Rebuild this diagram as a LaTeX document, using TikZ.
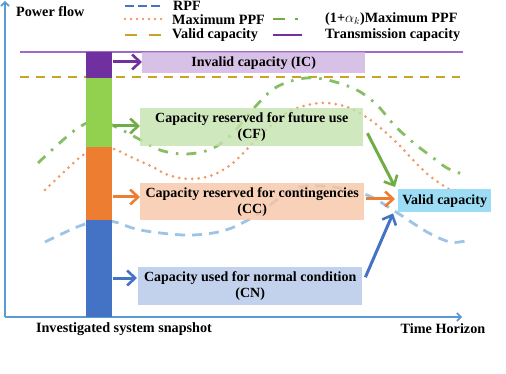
\documentclass[tikz,border=0pt]{standalone}
\usepackage{fontspec}
\setmainfont{Liberation Serif}
\usetikzlibrary{arrows.meta,calc}
\definecolor{axisblue}{HTML}{5B9BD5}
\definecolor{barP}{HTML}{7030A0}
\definecolor{barG}{HTML}{92D050}
\definecolor{barO}{HTML}{ED7D31}
\definecolor{barB}{HTML}{4472C4}
\definecolor{arrG}{HTML}{70AD47}
\definecolor{boxP}{HTML}{CDB2E0}
\definecolor{boxG}{HTML}{C3E2AC}
\definecolor{boxO}{HTML}{F8C6A6}
\definecolor{boxB}{HTML}{B4C7E7}
\definecolor{boxV}{HTML}{9DDCF5}
\definecolor{curB}{HTML}{9DC3E6}
\definecolor{curO}{HTML}{F29A66}
\definecolor{curG}{HTML}{86BF62}
\definecolor{gold}{HTML}{C9A227}
\definecolor{lineP}{HTML}{9E6BC8}
\tikzset{
  capbox/.style={rectangle, inner sep=1pt, align=center, fill opacity=0.8, text opacity=1, anchor=north west, font=\bfseries\fontsize{14}{16}\selectfont},
  flowarrow/.style={line width=3pt, -{Straight Barb[length=8pt,width=15pt,line width=2.6pt]}},
  axisline/.style={axisblue, line width=1.6pt, -{Straight Barb[length=4pt,width=8pt]}},
  lbl/.style={anchor=west, inner sep=0pt},
}
\begin{document}
\begin{tikzpicture}[x=1pt,y=-1pt, font=\bfseries\fontsize{14.2}{16}\selectfont]
\useasboundingbox (0,0) rectangle (506,374);
% axes
\coordinate (origin) at (5,317);
\coordinate (ytip) at (5,1);
\coordinate (xtip) at (462,317);
\draw[axisline] (origin) -- (ytip);
\draw[axisline] (origin) -- (xtip);
\node[lbl] (pf) at (16,12) {Power flow};
\node[inner sep=0pt] (snap) at (124,329) {Investigated system snapshot};
\node[inner sep=0pt] (th) at (443,329) {Time Horizon};
% legend
\coordinate (l1a) at (125,6); \coordinate (l1b) at (162,6);
\coordinate (l2a) at (125,19); \coordinate (l2b) at (162,19);
\coordinate (l3a) at (125,35); \coordinate (l3b) at (162,35);
\coordinate (l4a) at (273,19); \coordinate (l4b) at (305,19);
\coordinate (l5a) at (273,35); \coordinate (l5b) at (302,35);
\draw[barB, line width=2.8pt, dash pattern=on 9pt off 4pt] (l1a) -- (l1b);
\draw[curO, line width=2.8pt, line cap=round, dash pattern=on 0pt off 6pt] (l2a) -- (l2b);
\draw[gold, line width=2.8pt, dash pattern=on 12pt off 12pt] (l3a) -- (l3b);
\draw[arrG, line width=2.8pt, dash pattern=on 12pt off 10pt on 3pt off 10pt] (l4a) -- (l4b);
\draw[barP, line width=2.8pt] (l5a) -- (l5b);
\node[lbl] (t1) at (173,6) {RPF};
\node[lbl] (t2) at (172,19.5) {Maximum PPF};
\node[lbl] (t3) at (172,35) {Valid capacity};
\node[lbl] (t4) at (325,19) {(1+$\alpha_k$)Maximum PPF};
\node[lbl] (t5) at (325,35) {Transmission capacity};
% horizontal limits
\coordinate (tcA) at (20,52); \coordinate (tcB) at (463,52);
\coordinate (vcA) at (20,77); \coordinate (vcB) at (460,77);
\draw[lineP, line width=1.6pt] (tcA) -- (tcB);
\draw[gold, line width=2pt, dash pattern=on 9pt off 7pt] (vcA) -- (vcB);
% curves
\draw[curG, line width=2.8pt, dash pattern=on 10pt off 8pt on 2.5pt off 8pt]
  plot[smooth, tension=0.55] coordinates {(38,163) (75,130) (98,120) (118,128) (137,138) (160,150) (182,154) (202,152) (217,146) (234,132) (255,107) (272,90) (288,82) (306,78) (323,79) (345,85) (362,93) (378,106) (395,126) (415,144) (432,157) (447,168) (462,174)};
\draw[curO, line width=3pt, line cap=round, dash pattern=on 0pt off 6.5pt]
  plot[smooth, tension=0.55] coordinates {(45,190) (65,171) (83,155) (100,148) (114,149) (133,158) (153,167) (168,175) (190,179) (213,175) (233,163) (248,148) (266,130) (290,111) (320,103) (347,107) (372,121) (397,143) (414,161) (431,177) (452,191)};
\draw[curB, line width=2.8pt, dash pattern=on 10pt off 7pt]
  plot[smooth, tension=0.55] coordinates {(45,242) (77,227) (98,221) (115,222) (140,230) (183,235) (213,233) (234,227) (260,213) (278,199) (300,187) (333,187) (367,195) (393,210) (427,232) (450,242) (465,241)};
% boxes
\node[capbox, fill=boxP, minimum width=223pt, minimum height=21pt] (ic) at (142,52) {Invalid capacity (IC)};
\node[capbox, fill=boxG, minimum width=223pt, minimum height=38pt] (cf) at (140,108) {Capacity reserved for future use\\(CF)};
\node[capbox, fill=boxO, minimum width=224pt, minimum height=37pt] (cc) at (140,183) {Capacity reserved for contingencies\\(CC)};
\node[capbox, fill=boxB, minimum width=224pt, minimum height=38pt] (cn) at (138,267) {Capacity used for normal condition\\(CN)};
\node[capbox, fill=boxV, fill opacity=1, minimum width=93pt, minimum height=23pt] (vc) at (398,189) {Valid capacity};
% bar
\path[fill=barP] (86,52) rectangle (112,78);
\path[fill=barG] (86,78) rectangle (112,147);
\path[fill=barO] (86,147) rectangle (112,220);
\path[fill=barB] (86,220) rectangle (112,317);
\coordinate (bar) at (113,0);
% arrows from bar
\draw[flowarrow, barP] (bar |- 0,62) -- (ic.west |- 0,62);
\draw[flowarrow, arrG] (bar |- 0,126) -- (cf.west |- 0,126);
\draw[flowarrow, barO] (bar |- 0,197) -- (cc.west |- 0,197);
\draw[flowarrow, barB] (bar |- 0,278) -- ($(cn.west |- 0,278)+(-1,0)$);
% arrows to valid capacity
\draw[flowarrow, arrG] ($(cf.east)+(4,6)$) -- ($(vc.north west)+(-3,-2)$);
\draw[flowarrow, barO] ($(cc.east |- 0,199)+(2,0)$) -- ($(vc.west |- 0,199)+(-3,0)$);
\draw[flowarrow, barB] ($(cn.east)+(3,-9)$) -- ($(vc.south west)+(-5,1)$);
\end{tikzpicture}
\end{document}
